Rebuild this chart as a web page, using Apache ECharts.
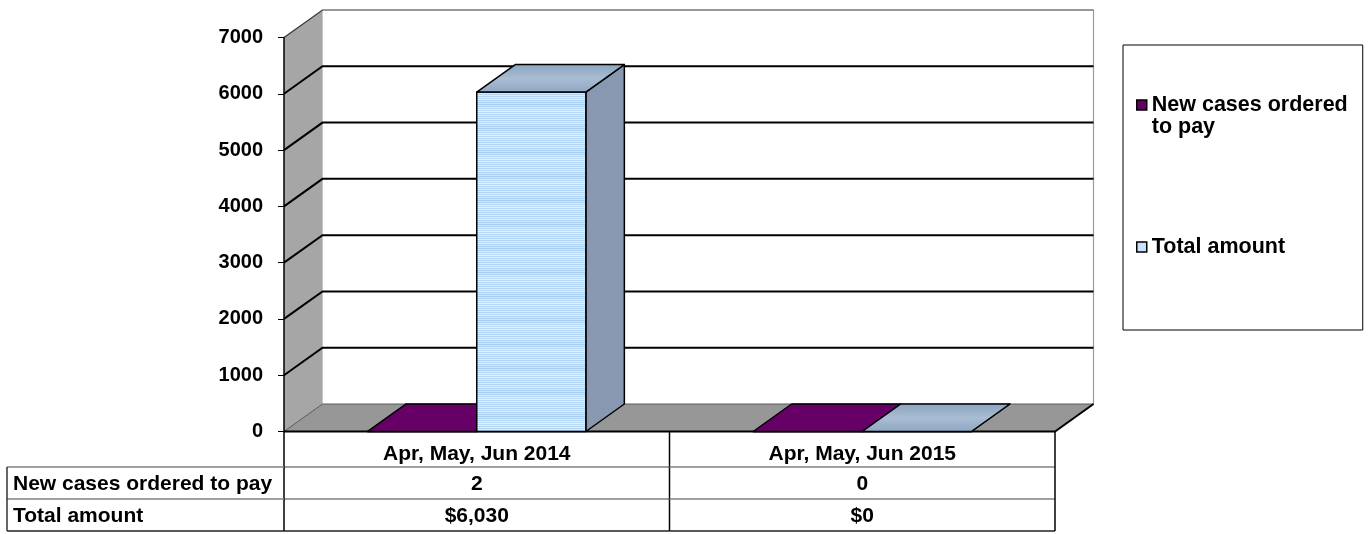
<!DOCTYPE html>
<html>
<head>
<meta charset="utf-8">
<script src="https://cdn.jsdelivr.net/npm/echarts@6/dist/echarts.min.js"></script>
<style>
  html, body { margin: 0; padding: 0; background: #fff; }
  #main { width: 1371px; height: 534px; }
</style>
</head>
<body>
<div id="main"></div>
<script>
// data
var categories = ['Apr, May, Jun 2014', 'Apr, May, Jun 2015'];
var seriesNames = ['New cases ordered to pay', 'Total amount'];
var newCases = [2, 0];
var totalAmount = [6030, 0];
var yTicks = [0, 1000, 2000, 3000, 4000, 5000, 6000, 7000];

var FONT = 'Liberation Sans, Arial, sans-serif';
var DX = 38.5, DY = -27.5;      // depth offset of the 3d box
var BAR_RATIO = 0.283;          // bar width / category band

// striped light blue used on the "Total amount" front face
function stripeCanvas() {
  var c = document.createElement('canvas');
  c.width = 4; c.height = 24;
  var ctx = c.getContext('2d');
  var rows = ['#b2d4f5', '#d9edff', '#b9d9f7', '#e2f1ff', '#b0d3f4', '#d4eafe',
              '#a9cff3', '#cfe6fd', '#a6cdf2', '#cde5fd', '#aed2f4', '#d8ecff',
              '#b6d7f6', '#e0f0ff', '#bcdbf8', '#e4f2ff', '#b8d9f7', '#dff0ff',
              '#b4d6f6', '#dbeeff', '#b3d5f5', '#d7ebfe', '#b1d4f5', '#daedff'];
  for (var i = 0; i < rows.length; i++) {
    ctx.fillStyle = rows[i];
    ctx.fillRect(0, i, 4, 1);
  }
  return c;
}
var bluePattern = { image: stripeCanvas(), repeat: 'repeat' };

var faces = [
  { front: '#660066', top: '#660066', side: '#4d004d' },
  {
    front: bluePattern,
    top: new echarts.graphic.LinearGradient(0, 0, 0, 1, [
      { offset: 0, color: '#8aa3bf' }, { offset: 0.5, color: '#a9bdd3' }, { offset: 1, color: '#8ea7c3' }
    ]),
    side: '#8898b1'
  }
];

var edge = { stroke: '#000', lineWidth: 1.5, lineJoin: 'round' };

function barRenderer(slot) {
  return function (params, api) {
    var cat = api.value(0), val = api.value(1);
    var base = api.coord([cat, 0]);
    var top = api.coord([cat, val]);
    var w = api.size([1, 0])[0] * BAR_RATIO;
    var x0 = slot === 0 ? base[0] - w : base[0];
    var x1 = x0 + w;
    var y0 = base[1], y1 = top[1];
    var f = faces[slot];
    return {
      type: 'group',
      children: [
        { type: 'polygon', shape: { points: [[x1, y1], [x1, y0], [x1 + DX, y0 + DY], [x1 + DX, y1 + DY]] },
          style: Object.assign({ fill: f.side }, edge) },
        { type: 'rect', shape: { x: x0, y: y1, width: w, height: Math.max(y0 - y1, 0.1) },
          style: Object.assign({ fill: f.front }, edge) },
        { type: 'polygon', shape: { points: [[x0, y1], [x1, y1], [x1 + DX, y1 + DY], [x0 + DX, y1 + DY]] },
          style: Object.assign({ fill: f.top }, edge) }
      ]
    };
  };
}

// walls, floor and gridlines of the 3d box
function renderFrame(params, api) {
  var cs = params.coordSys;
  var x = cs.x, w = cs.width;
  var yb = api.coord([0, yTicks[0]])[1];
  var yt = api.coord([0, yTicks[yTicks.length - 1]])[1];
  var ch = [];
  ch.push({ type: 'polygon', shape: { points: [[x + DX, yt + DY], [x + w + DX, yt + DY], [x + w + DX, yb + DY], [x + DX, yb + DY]] },
    style: { fill: '#fff' } });
  ch.push({ type: 'polygon', shape: { points: [[x, yt], [x + DX, yt + DY], [x + DX, yb + DY], [x, yb]] },
    style: { fill: '#a6a6a6' } });
  ch.push({ type: 'polygon', shape: { points: [[x, yb], [x + w, yb], [x + w + DX, yb + DY], [x + DX, yb + DY]] },
    style: { fill: '#979797' } });
  ch.push({ type: 'line', shape: { x1: x + DX, y1: yt + DY, x2: x + DX, y2: yb + DY }, style: { stroke: '#c8c8c8', lineWidth: 1 } });
  ch.push({ type: 'line', shape: { x1: x + w + DX, y1: yt + DY, x2: x + w + DX, y2: yb + DY }, style: { stroke: '#9a9a9a', lineWidth: 1.2 } });
  ch.push({ type: 'polyline', shape: { points: [[x, yb], [x + DX, yb + DY], [x + w + DX, yb + DY]] }, style: { stroke: '#5a5a5a', lineWidth: 1, fill: null } });
  yTicks.forEach(function (v, k) {
    if (k === 0) return;
    var y = api.coord([0, v])[1];
    var last = k === yTicks.length - 1;
    ch.push({ type: 'polyline', shape: { points: [[x, y], [x + DX, y + DY], [x + w + DX, y + DY]] },
      style: { stroke: last ? '#333' : '#000', lineWidth: last ? 1.2 : 2, fill: null } });
  });
  ch.push({ type: 'polyline', shape: { points: [[x, yb], [x + w, yb], [x + w + DX, yb + DY]] },
    style: { stroke: '#000', lineWidth: 2, fill: null } });
  return { type: 'group', children: ch };
}

function money(v) { return '$' + v.toLocaleString('en-US'); }

// data table under the plot
function renderTable(params, api) {
  var i = params.dataIndex;
  var cs = params.coordSys;
  var cx = api.coord([i, 0])[0];
  var bw = api.size([1, 0])[0];
  var top = cs.y + cs.height;
  var r1 = top + 35.5, r2 = r1 + 32, r3 = r2 + 32;
  var xl = cx - bw / 2, xr = cx + bw / 2;
  var txt = function (s, tx, ty, align) {
    return { type: 'text', style: { text: s, x: tx, y: ty, align: align || 'center', verticalAlign: 'middle',
      fill: '#000', fontSize: 21, fontWeight: 'bold', fontFamily: FONT } };
  };
  var ln = function (a, b, c, d, col) {
    return { type: 'line', shape: { x1: a, y1: b, x2: c, y2: d }, style: { stroke: col, lineWidth: 1.5 } };
  };
  var ch = [
    ln(xl, r1, xr, r1, '#808080'), ln(xl, r2, xr, r2, '#808080'), ln(xl, r3, xr, r3, '#222'),
    ln(xr, top, xr, r3, '#000'),
    txt(categories[i], cx, top + 23),
    txt(String(newCases[i]), cx, (r1 + r2) / 2 + 1),
    txt(money(totalAmount[i]), cx, (r2 + r3) / 2 + 1)
  ];
  if (i === 0) {
    var lx = cs.x - 277;
    ch.push(ln(xl, top, xl, r3, '#000'));
    ch.push(ln(lx, r1, xl, r1, '#808080'), ln(lx, r2, xl, r2, '#808080'), ln(lx, r3, xl, r3, '#222'));
    ch.push(ln(lx, r1, lx, r3, '#333'));
    ch.push(txt(seriesNames[0], lx + 6, (r1 + r2) / 2 + 1, 'left'));
    ch.push(txt(seriesNames[1], lx + 6, (r2 + r3) / 2 + 1, 'left'));
  }
  return { type: 'group', children: ch };
}

var myChart = echarts.init(document.getElementById('main'));

var option = {
  animation: false,
  backgroundColor: '#fff',
  grid: { left: 284, right: 316, top: 37.5, bottom: 102.5 },
  legend: {
    orient: 'vertical',
    left: 1123,
    top: 45,
    padding: [27, 15, 72, 13],
    itemGap: 98,
    itemWidth: 10,
    itemHeight: 10,
    selectedMode: false,
    borderColor: '#000',
    borderWidth: 1,
    formatter: function (name) {
      return name === seriesNames[0] ? '\nNew cases ordered\nto pay' : name;
    },
    textStyle: { fontSize: 21.5, fontWeight: 'bold', fontFamily: FONT, color: '#000', lineHeight: 22 },
    data: [
      { name: seriesNames[0], icon: 'rect', itemStyle: { color: '#660066', borderColor: '#000', borderWidth: 1.5 } },
      { name: seriesNames[1], icon: 'rect', itemStyle: { color: '#c9e2fb', borderColor: '#000', borderWidth: 1.5 } }
    ]
  },
  xAxis: {
    type: 'category',
    data: categories,
    axisLine: { show: false },
    axisTick: { show: false },
    axisLabel: { show: false }
  },
  yAxis: {
    type: 'value',
    min: 0,
    max: 7000,
    interval: 1000,
    z: 10,
    axisLine: { show: true, lineStyle: { color: '#000', width: 1.5 } },
    axisTick: { show: true, length: 6, lineStyle: { color: '#000', width: 1 } },
    axisLabel: {
      margin: 21, fontSize: 20, fontWeight: 'bold', fontFamily: FONT, color: '#000',
      formatter: function (v) { return String(v); }
    },
    splitLine: { show: false }
  },
  series: [
    { type: 'custom', silent: true, renderItem: renderFrame, data: [[0, 0]] },
    {
      type: 'custom', name: seriesNames[0], silent: true,
      itemStyle: { color: '#660066' },
      renderItem: barRenderer(0),
      data: newCases.map(function (v, i) { return [i, v]; })
    },
    {
      type: 'custom', name: seriesNames[1], silent: true,
      itemStyle: { color: '#c9e2fb' },
      renderItem: barRenderer(1),
      data: totalAmount.map(function (v, i) { return [i, v]; })
    },
    { type: 'custom', silent: true, renderItem: renderTable, data: categories.map(function (c, i) { return [i, 0]; }) }
  ]
};
myChart.setOption(option);
</script>
</body>
</html>
